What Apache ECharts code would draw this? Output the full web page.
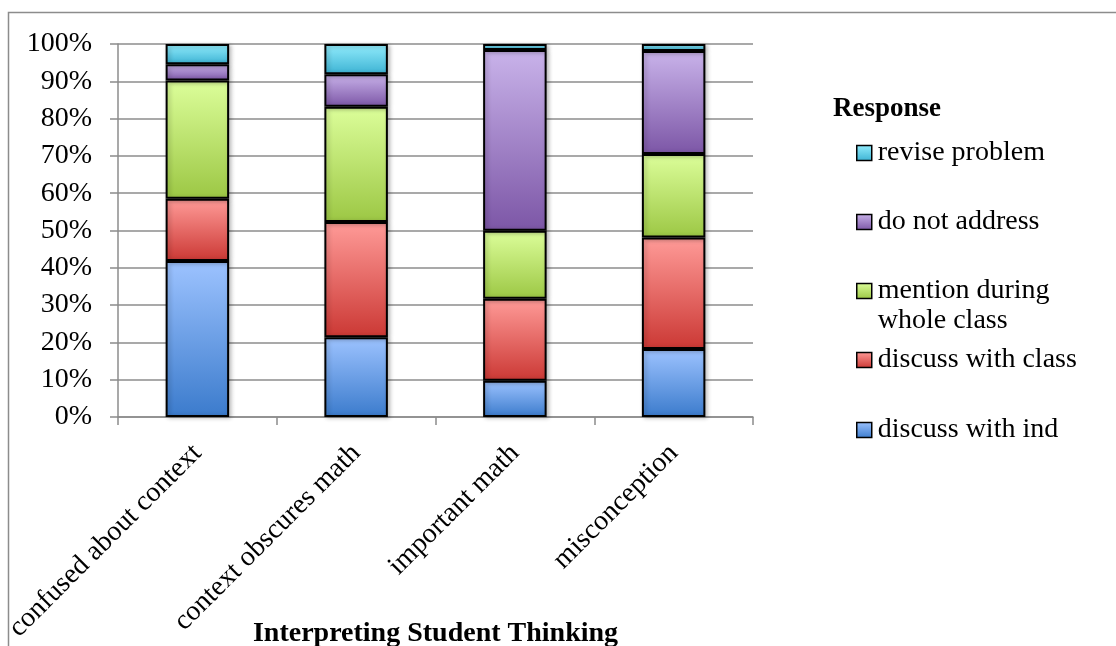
<!DOCTYPE html>
<html>
<head>
<meta charset="utf-8">
<script src="https://cdn.jsdelivr.net/npm/echarts@6/dist/echarts.min.js"></script>
<style>html,body{margin:0;padding:0;background:#fff}#c{width:1116px;height:646px}</style>
</head>
<body>
<div id="c"></div>
<script>
const categories = ['confused about context', 'context obscures math', 'important math', 'misconception'];
const yTicks = [0, 10, 20, 30, 40, 50, 60, 70, 80, 90, 100];
const discussInd = [41.8, 21.4, 9.7, 18.2];
const discussClass = [16.7, 30.9, 22.0, 29.9];
const mentionWhole = [31.7, 30.9, 18.2, 22.4];
const doNotAddress = [4.4, 8.7, 48.5, 27.6];
const reviseProblem = [5.4, 8.1, 1.6, 1.9];
const seriesNames = ['discuss with ind', 'discuss with class', 'mention during whole class', 'do not address', 'revise problem'];
const seriesData = [discussInd, discussClass, mentionWhole, doNotAddress, reviseProblem];
const legendTitle = 'Response';
const xTitle = 'Interpreting Student Thinking';

const FONT = 'Liberation Serif';
const gradients = [
  ['#9dc3ff', '#3b7bcc'],
  ['#ff9b98', '#cb3834'],
  ['#dcfe9a', '#9cc744'],
  ['#c9b3ea', '#7c56a6'],
  ['#93edfd', '#3cb2d3']
];
function grad(c) {
  return new echarts.graphic.LinearGradient(0, 0, 0, 1, [{offset: 0, color: c[0]}, {offset: 1, color: c[1]}]);
}

const series = seriesNames.map((name, i) => ({
  name: name,
  type: 'bar',
  stack: 'total',
  barWidth: '40%',
  data: seriesData[i],
  itemStyle: {
    color: grad(gradients[i]),
    borderColor: '#000',
    borderWidth: 2,
    shadowColor: 'rgba(0,0,0,0.25)',
    shadowBlur: 4,
    shadowOffsetX: 2,
    shadowOffsetY: 1
  },
  emphasis: {disabled: true}
}));

// legend: top-to-bottom order reverse of stacking
const legendCenters = [430, 360, 291, 222, 153];
const legends = seriesNames.map((name, i) => {
  const multi = name === 'mention during whole class';
  return {
    data: [name],
    left: 856,
    top: multi ? legendCenters[i] - 45 : legendCenters[i] - 15,
    padding: 0,
    orient: 'vertical',
    selectedMode: false,
    icon: 'rect',
    itemWidth: 15,
    itemHeight: 15,
    itemGap: 0,
    itemStyle: {borderColor: '#000', borderWidth: 1.5, shadowBlur: 0, shadowOffsetX: 0, shadowOffsetY: 0},
    formatter: multi ? () => '\nmention during\nwhole class' : undefined,
    textStyle: {fontFamily: FONT, fontSize: 28, color: '#000', lineHeight: 30, padding: [0, 0, 0, 1]}
  };
});

const chart = echarts.init(document.getElementById('c'), null, {renderer: 'canvas'});
chart.setOption({
  animation: false,
  backgroundColor: '#fff',
  grid: {left: 118, right: 363, top: 44, bottom: 229, containLabel: false, outerBoundsMode: 'none'},
  graphic: [
    {type: 'rect', shape: {x: 8.5, y: 12.5, width: 1300, height: 800}, style: {fill: 'none', stroke: '#8c8c8c', lineWidth: 1.5}, silent: true},
    {type: 'text', left: 833, top: 96, style: {text: legendTitle, font: 'bold 27px "Liberation Serif"', fill: '#000'}}
  ],
  legend: legends,
  xAxis: {
    type: 'category',
    data: categories,
    name: xTitle,
    nameLocation: 'middle',
    nameGap: 203,
    nameMoveOverlap: false,
    nameTextStyle: {fontFamily: FONT, fontSize: 28, fontWeight: 'bold', color: '#000'},
    axisLine: {lineStyle: {color: '#8c8c8c', width: 1.5}},
    axisTick: {show: true, length: 8, lineStyle: {color: '#8c8c8c', width: 1.5}},
    axisLabel: {rotate: 45, margin: 32, fontFamily: FONT, fontSize: 28, color: '#000', interval: 0}
  },
  yAxis: {
    type: 'value',
    min: yTicks[0],
    max: yTicks[yTicks.length - 1],
    interval: yTicks[1] - yTicks[0],
    axisLine: {show: true, lineStyle: {color: '#8c8c8c', width: 1.5}},
    axisTick: {show: true, length: 8, lineStyle: {color: '#8c8c8c', width: 1.5}},
    splitLine: {lineStyle: {color: '#8c8c8c', width: 1.5}},
    axisLabel: {formatter: '{value}%', margin: 26, fontFamily: FONT, fontSize: 28, color: '#000'}
  },
  series: series
});
</script>
</body>
</html>
